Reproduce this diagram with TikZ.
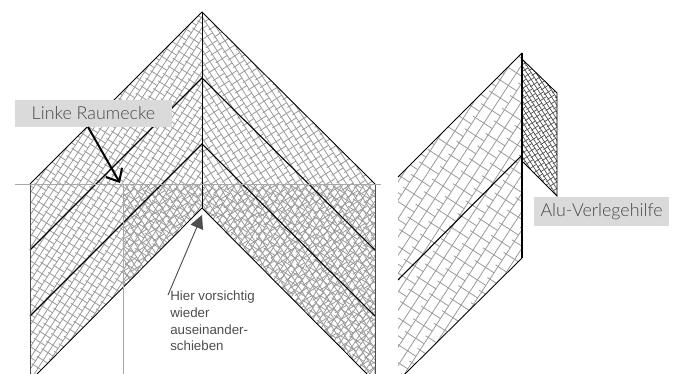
\documentclass[tikz,border=0pt]{standalone}
\usepackage{fontspec}
\setmainfont{Lato}[UprightFont=* Light]
\newfontfamily\arialfont{Liberation Sans}
\usetikzlibrary{arrows.meta}
\definecolor{hatch}{HTML}{9A9A9A}
\definecolor{labelbg}{HTML}{DADADA}
\definecolor{labeltx}{HTML}{484848}
\definecolor{annot}{HTML}{4D4D4D}
\definecolor{guide}{HTML}{A8A8A8}
% #1 centre, #2 angle, #3 row spacing, #4 half extent, #5 style
\newcommand{\brickfill}[5]{%
  \begin{scope}[shift={#1},rotate=#2]
    \pgfmathtruncatemacro{\nrows}{#4/#3}
    \pgfmathtruncatemacro{\npairs}{#4/(2*#3)}
    \pgfmathtruncatemacro{\nticks}{#4/(1.5*#3)}
    \foreach \r in {-\nrows,...,\nrows}{
      \draw[#5] (-#4,{\r*#3}) -- (#4,{\r*#3});
    }
    \foreach \p in {-\npairs,...,\npairs}{
      \pgfmathsetmacro{\off}{mod(abs(\p),2)*0.75*#3}
      \foreach \k in {-\nticks,...,\nticks}{
        \draw[#5] ({\k*1.5*#3+\off},{\p*2*#3-0.3*#3}) -- ({\k*1.5*#3+\off},{\p*2*#3+2*#3});
      }
    }
  \end{scope}}
\tikzset{
  edge/.style={draw=black,line width=.65pt},
  fold/.style={draw=black,line width=.8pt},
  guideline/.style={draw=guide,line width=.65pt},
  fine/.style={draw=hatch,line width=.6pt},
  overlay/.style={draw=hatch,line width=.6pt},
  tag/.style={fill=labelbg,text=labeltx,inner sep=0pt,anchor=center,font=\fontsize{13.4}{15}\selectfont},
}
\begin{document}
\begin{tikzpicture}[x=.75pt,y=-.75pt,line cap=butt]
\useasboundingbox (0,0) rectangle (674,374);
% left figure hatch
\begin{scope}
  \clip (202,12) -- (30,184) -- (30,374) -- (37,374) -- (202,208) -- cycle;
  \brickfill{(116,193)}{57}{6}{210}{fine}
\end{scope}
\begin{scope}
  \clip (202,12) -- (375,184) -- (375,374) -- (367,374) -- (202,208) -- cycle;
  \brickfill{(288,193)}{123}{6}{210}{fine}
\end{scope}
\begin{scope}
  \clip (123,184) -- (202,184) -- (202,208) -- (123,287) -- cycle;
  \brickfill{(162,230)}{123}{6}{70}{overlay}
\end{scope}
\begin{scope}
  \clip (202,184) -- (375,184) -- (375,374) -- (367,374) -- (202,208) -- cycle;
  \brickfill{(288,280)}{57}{6}{140}{overlay}
\end{scope}
% left figure lines
\draw[edge] (30,184) -- (202,12) -- (375,184);
\draw[fold] (30,250) -- (202,78) -- (375,250);
\draw[fold] (30,316) -- (202,144) -- (375,316);
\draw[edge] (37,374) -- (202,208) -- (367,374);
\draw[edge] (202,12) -- (202,208);
\draw[draw=annot,line width=.7pt] (30,184) -- (30,374);
\draw[draw=annot,line width=.7pt] (375,184) -- (375,374);
\draw[guideline] (15,184) -- (381,184);
\draw[guideline] (123,184) -- (123,374);
% right figure
\begin{scope}
  \clip (522,53) -- (398,177) -- (398,374) -- (405,374) -- (522,258) -- cycle;
  \brickfill{(460,215)}{57}{10}{200}{fine}
\end{scope}
\begin{scope}
  \clip (523,60) -- (557,93) -- (557,196) -- (523,162) -- cycle;
  \brickfill{(540,128)}{123}{3.8}{90}{draw=annot,line width=.5pt}
\end{scope}
\draw[edge] (398,177) -- (522,53);
\draw[fold] (398,280) -- (522,155);
\draw[edge] (405,374) -- (522,258);
\draw[fold] (522,53) -- (522,258);
\draw[edge] (523,60) -- (557,93) -- (557,196) -- (523,162);
% labels
\node[tag,minimum width=117.75pt,minimum height=20.25pt] (raum) at (93.5,113.5) {Linke Raumecke};
\node[tag,minimum width=101.25pt,minimum height=21.75pt] (alu) at (601.5,211.5) {Alu-Verlegehilfe};
\coordinate (raumtip) at (120,183);
\coordinate (raumfoot) at (88,127);
\draw[black,line width=1.5pt,-{Straight Barb[length=8pt,width=14pt]}] (raumfoot) -- (raumtip);
\node[anchor=north west,align=left,inner sep=0pt,text=annot,font=\arialfont\fontsize{10}{12.5}\selectfont] (hier) at (170,291) {Hier vorsichtig\\wieder\\auseinander-\\schieben};
\coordinate (hiertip) at (202,215);
\draw[annot,line width=.7pt,-{Triangle[length=10pt,width=10pt]}] (hier.north west) ++(-2,4) coordinate (hierfoot) -- (hiertip);
\end{tikzpicture}
\end{document}
